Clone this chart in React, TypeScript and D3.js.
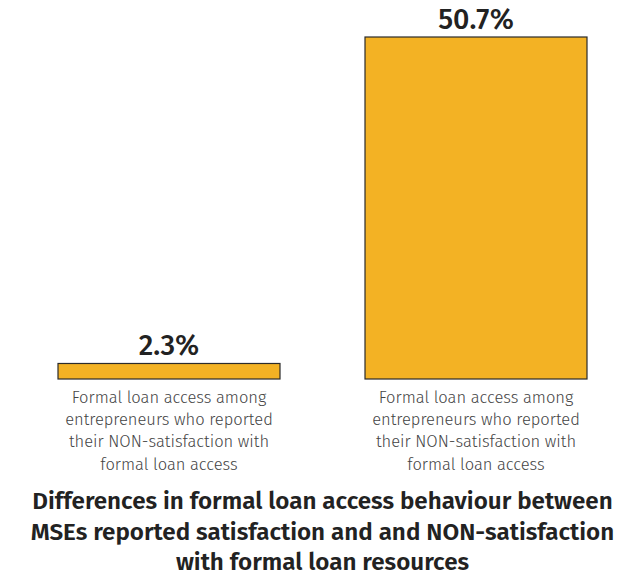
import React from "react";
import * as d3 from "d3";

const categories = ["cat1", "cat2"];
const values = [2.3, 50.7];
const valueLabels = ["2.3%", "50.7%"];
const categoryLabelLines = [
  ["Formal loan access among", "entrepreneurs who reported", "their NON-satisfaction with", "formal loan access"],
  ["Formal loan access among", "entrepreneurs who reported", "their NON-satisfaction with", "formal loan access"],
];
const titleLines = [
  "Differences in formal loan access behaviour between",
  "MSEs reported satisfaction and and NON-satisfaction",
  "with formal loan resources",
];

const W = 643;
const H = 577;
const FONT = "'Fira Sans', Roboto, 'Noto Sans', sans-serif";

export default function App() {
  const x = d3.scaleBand<string>().domain(categories).range([58, 587]).paddingInner(0.2769).paddingOuter(0);
  const y = d3.scaleLinear().domain([0, 50.7]).range([379, 37]);
  return (
    <svg width={W} height={H} style={{ position: "absolute", left: 0, top: 0 }}>
      <rect width={W} height={H} fill="#fff" />
      {categories.map((c, i) => {
        const bx = x(c)!;
        const bw = x.bandwidth();
        return (
          <g key={c}>
            <rect x={bx} y={y(values[i])} width={bw} height={y(0) - y(values[i])} fill="#F3B224" stroke="#2b2b2b" strokeWidth={1.2} />
            <text x={bx + bw / 2} y={y(values[i]) - 8} textAnchor="middle" fontFamily={FONT} fontSize={28.6} fontWeight={500} fill="#222">
              {valueLabels[i]}
            </text>
            {categoryLabelLines[i].map((l, j) => (
              <text key={j} x={bx + bw / 2} y={403 + j * 22.2} textAnchor="middle" fontFamily={FONT} fontSize={16.5} fontWeight={300} fill="#444">
                {l}
              </text>
            ))}
          </g>
        );
      })}
      {titleLines.map((l, j) => (
        <text key={j} x={W / 2 + 1} y={509 + j * 30.5} textAnchor="middle" fontFamily={FONT} fontSize={24.2} fontWeight={600} fill="#222">
          {l}
        </text>
      ))}
    </svg>
  );
}
